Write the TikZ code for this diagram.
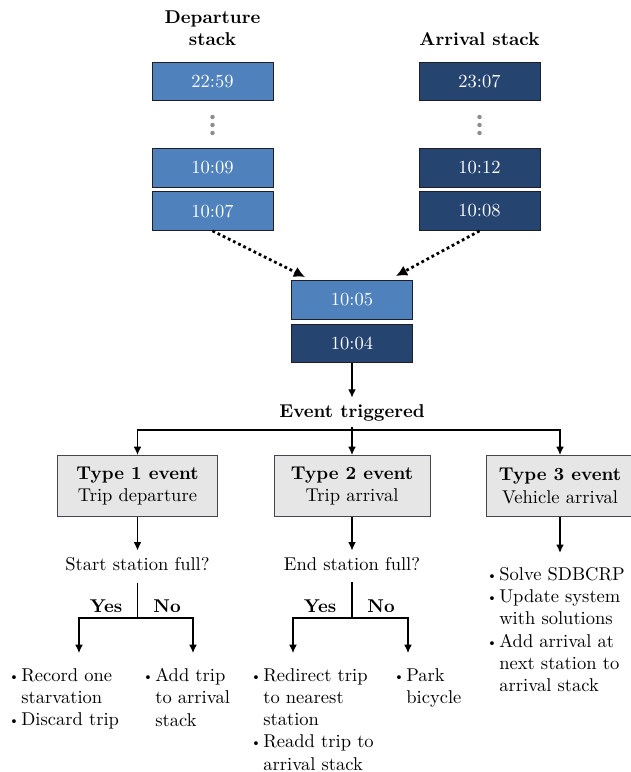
\documentclass[tikz,border=0pt]{standalone}
\usetikzlibrary{arrows.meta,calc}
\definecolor{depblue}{RGB}{79,129,189}
\definecolor{arrblue}{RGB}{38,68,112}
\definecolor{boxedge}{RGB}{30,30,35}
\definecolor{eventfill}{RGB}{230,230,230}
\definecolor{eventedge}{RGB}{70,70,75}
\definecolor{dotgray}{RGB}{140,140,140}

% bullet and hanging indent for the outcome lists
\newcommand{\itm}{\makebox[7pt][l]{\raisebox{0.5pt}{\scriptsize\textbullet}}}
\newcommand{\hang}{\hspace*{7pt}}

\begin{document}
\begin{tikzpicture}[x=0.54pt,y=-0.54pt,>={Latex[length=4.5pt,width=4.2pt]},
  stackbox/.style={draw=boxedge,line width=0.5pt,minimum width=65.3pt,
    minimum height=21pt,inner sep=0pt,text=white},
  depbox/.style={stackbox,fill=depblue},
  arrbox/.style={stackbox,fill=arrblue},
  eventbox/.style={draw=eventedge,line width=0.5pt,fill=eventfill,
    minimum height=33pt,inner sep=0pt,align=center},
  outcome/.style={align=left,anchor=north west,inner sep=0pt},
  flow/.style={line width=0.6pt,->},
  feed/.style={line width=1.5pt,dash pattern=on 1.5pt off 1.6pt,
    -{Latex[length=6pt,width=6pt]}}]
  \useasboundingbox (0,0) rectangle (631,772);

  % --- the two stacks ---
  \def\depx{212.5}
  \def\arrx{479.5}
  \node[font=\bfseries,align=center] (deptitle) at (\depx,28.5)
    {Departure\\stack};
  \node[font=\bfseries,anchor=base] (arrtitle) at (\arrx,45)
    {Arrival stack};

  \node[depbox] (dep1) at (\depx,81.5) {22:59};
  \node[depbox] (dep2) at (\depx,168)  {10:09};
  \node[depbox] (dep3) at (\depx,211)  {10:07};
  \node[arrbox] (arr1) at (\arrx,81.5) {23:07};
  \node[arrbox] (arr2) at (\arrx,168)  {10:12};
  \node[arrbox] (arr3) at (\arrx,211)  {10:08};

  % vertical ellipsis between the stack ends
  \foreach \y in {117,125,133}{
    \fill[dotgray] (\depx,\y) circle (1.2pt);
    \fill[dotgray] (\arrx,\y) circle (1.2pt);
  }

  % --- merged queue ---
  \node[depbox] (mid1) at (352,300)   {10:05};
  \node[arrbox] (mid2) at (352,343.5) {10:04};
  \coordinate (depin) at (305,277);
  \coordinate (arrin) at (396,276);
  \draw[feed] (dep3.south) -- (depin);
  \draw[feed] (arr3.south) -- (arrin);

  \node[font=\bfseries,anchor=base] (event) at (352,417) {Event triggered};
  \draw[flow] (mid2.south) -- (event.north);

  % --- event types ---
  \node[eventbox,minimum width=85.9pt] (type1) at (137.5,486)
    {\textbf{Type 1 event}\\Trip departure};
  \node[eventbox,minimum width=84.2pt] (type2) at (352,486)
    {\textbf{Type 2 event}\\Trip arrival};
  \node[eventbox,minimum width=79.9pt] (type3) at (560,486)
    {\textbf{Type 3 event}\\Vehicle arrival};

  \coordinate (split) at (352,430);
  \draw[line width=0.6pt] (event.south) -- (split);
  \draw[flow] (split) -| (type1.north);
  \draw[flow] (split) -- (type2.north);
  \draw[flow] (split) -| (type3.north);

  % --- questions ---
  \node[anchor=base] (q1) at (137.5,570) {Start station full?};
  \node[anchor=base] (q2) at (352,570)   {End station full?};
  \draw[flow] (type1.south) -- (q1.north);
  \draw[flow] (type2.south) -- (q2.north);

  \coordinate (fork1) at (137.5,618);
  \coordinate (yes1) at (79,653);
  \coordinate (no1)  at (193,653);
  \coordinate (fork2) at (352,618);
  \coordinate (yes2) at (293,653);
  \coordinate (no2)  at (408,653);
  \coordinate (t3end) at (560,553);

  \draw[line width=0.6pt,shorten <=3pt] (q1.south) -- (fork1);
  \draw[flow] (fork1) -| (yes1);
  \draw[flow] (fork1) -| (no1);
  \draw[line width=0.6pt,shorten <=3pt] (q2.south) -- (fork2);
  \draw[flow] (fork2) -| (yes2);
  \draw[flow] (fork2) -| (no2);
  \draw[flow,line width=1pt] (type3.south) -- (t3end);

  \node[font=\bfseries,anchor=base] (yeslab1) at (106,612) {Yes};
  \node[font=\bfseries,anchor=base] (nolab1)  at (167,612) {No};
  \node[font=\bfseries,anchor=base] (yeslab2) at (320,612) {Yes};
  \node[font=\bfseries,anchor=base] (nolab2)  at (381,612) {No};

  % --- outcomes ---
  \node[outcome] (out1a) at (8,668)
    {\itm Record one\\\hang starvation\\\itm Discard trip};
  \node[outcome] (out1b) at (142,668)
    {\itm Add trip\\\hang to arrival\\\hang stack};
  \node[outcome] (out2a) at (250,668)
    {\itm Redirect trip\\\hang to nearest\\\hang station\\
     \itm Readd trip to\\\hang arrival stack};
  \node[outcome] (out2b) at (393,668)
    {\itm Park\\\hang bicycle};
  \node[outcome] (out3) at (486,567)
    {\itm Solve SDBCRP\\\itm Update system\\\hang with solutions\\
     \itm Add arrival at\\\hang next station to\\\hang arrival stack};

\end{tikzpicture}
\end{document}
